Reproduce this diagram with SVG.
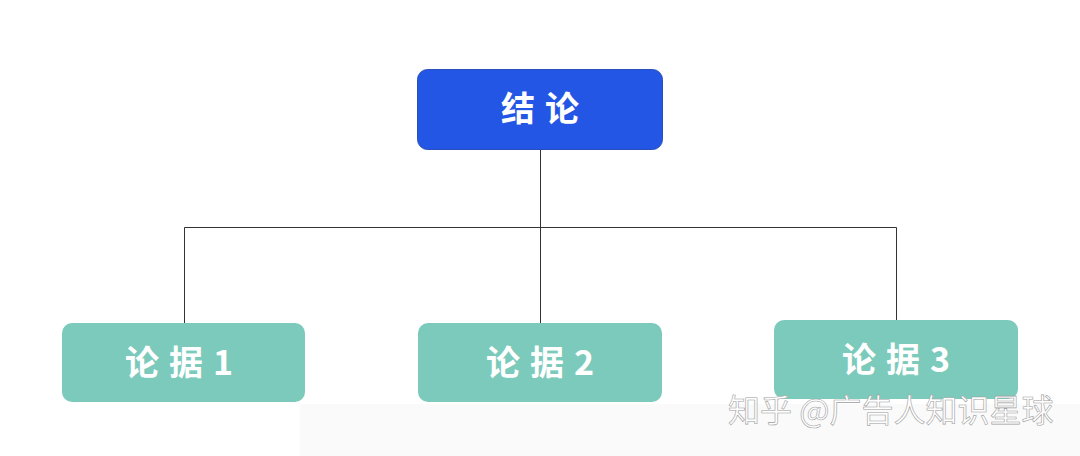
<svg xmlns="http://www.w3.org/2000/svg" width="1080" height="456" viewBox="0 0 1080 456">
<style>
.lbl{font-family:"Noto Sans CJK SC","Liberation Sans",sans-serif;font-weight:700;font-size:34px;fill:#ffffff;text-anchor:middle;letter-spacing:10px}
.child{fill:#7ccabb}
.wm{font-family:"Noto Sans CJK SC","Liberation Sans",sans-serif;font-size:32px;fill:#ffffff;stroke:#a0a0a0;stroke-width:0.6px}
</style>
<rect width="1080" height="456" fill="#ffffff"/>
<rect x="300" y="404" width="780" height="52" fill="#fafafa"/>
<g id="connectors" fill="none" stroke="#333333" stroke-width="1">
<path d="M540.5 149 V227.5 M184.5 323 V227.5 H896.5 V320 M540.5 227.5 V323"/>
</g>
<g id="root">
<rect x="417.5" y="69.5" width="245" height="80" rx="10" fill="#2456e6" stroke="#2b4fb8" stroke-width="1"/>
<text class="lbl" x="545" y="121">结论</text>
</g>
<g id="arg1">
<rect class="child" x="62" y="323" width="243" height="79" rx="10"/>
<text class="lbl" x="184" y="375">论据1</text>
</g>
<g id="arg2">
<rect class="child" x="418" y="323" width="244" height="79" rx="10"/>
<text class="lbl" x="545" y="375">论据2</text>
</g>
<g id="arg3">
<rect class="child" x="774" y="320" width="244" height="79" rx="10"/>
<text class="lbl" x="901" y="372">论据3</text>
</g>
<text class="wm" x="728" y="422">知乎 @广告人知识星球</text>
</svg>
